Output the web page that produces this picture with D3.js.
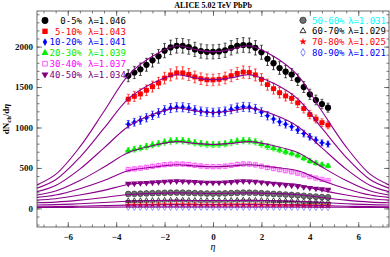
<!DOCTYPE html>
<html>
<head>
<meta charset="utf-8">
<script src="https://cdn.jsdelivr.net/npm/d3@7"></script>
<style>
body { margin: 0; background: #fff; }
svg { display: block; }
</style>
</head>
<body>
<div id="chart"></div>
<script>
// pseudorapidity bins of the measured points
var etaPoints = [-3.5,-3.25,-3,-2.75,-2.5,-2.25,-2,-1.75,-1.5,-1.25,-1,-0.75,-0.5,-0.25,0,0.25,0.5,0.75,1,1.25,1.5,1.75,2,2.25,2.5,2.75,3,3.25,3.5,3.75,4,4.25,4.5,4.75];
var etaCurve = [-7.3,-6.5,-5.5,-4.5,-3.5,-2.5,-1.5,-0.75,0,0.75,1.5,2.5,3.5,4.5,5.5,6.5,7.3];

var centralities = ["0-5%","5-10%","10-20%","20-30%","30-40%","40-50%","50-60%","60-70%","70-80%","80-90%"];
var lambdas = ["1.046","1.043","1.041","1.039","1.037","1.034","1.031","1.029","1.025","1.021"];

// dNch/deta data
var dn0_5   = [1640,1680,1720,1775,1830,1880,1950,1990,2010,2010,1995,1965,1945,1935,1935,1940,1955,1985,2010,2020,2015,1985,1930,1850,1795,1735,1690,1655,1590,1500,1410,1340,1290,1245];
var dn5_10  = [1350,1385,1415,1460,1505,1550,1610,1650,1675,1675,1655,1625,1603,1590,1588,1595,1612,1640,1668,1685,1680,1650,1595,1530,1480,1430,1390,1360,1305,1235,1160,1105,1060,1030];
var dn10_20 = [1040,1065,1090,1120,1150,1180,1215,1240,1250,1250,1240,1215,1200,1190,1185,1190,1200,1225,1245,1255,1250,1230,1190,1145,1105,1070,1040,1010,970,925,885,845,810,795];
var dn20_30 = [715,730,745,765,785,800,820,832,838,836,828,812,800,792,788,790,798,815,830,838,835,822,795,765,745,722,700,680,655,620,585,560,540,525];
var dn30_40 = [480,488,497,508,520,530,540,546,549,548,542,533,524,518,515,517,522,532,543,549,547,538,522,505,492,478,465,452,435,413,392,375,358,345];
var dn40_50 = [305,308,312,316,321,326,331,334,336,335,332,327,322,319,318,319,322,327,333,336,335,330,322,313,306,298,290,282,274,264,254,245,238,232];
var dn50_60 = [178,180,182,185,188,190,192,194,195,194,192,189,186,184,183,184,186,189,192,195,194,192,188,183,179,175,171,167,162,156,150,145,140,136];
var dn60_70 = [92,93,94,95,96,97,98,99,100,99,98,97,96,96,96,96,97,98,99,100,99,98,97,95,93,91,89,87,85,82,79,77,75,73];
var dn70_80 = [43,43.5,44,44.5,45,45.5,46,46.5,46.5,46.5,46,45.5,45,45,45,45,45.5,46,46.5,46.5,46.5,46,45.5,45,44,43,42,41,40,38.5,37,36,35,34];
var dn80_90 = [17,17,17.2,17.3,17.4,17.5,17.6,17.7,17.8,17.8,17.7,17.6,17.5,17.5,17.5,17.5,17.6,17.7,17.8,17.8,17.8,17.7,17.6,17.5,17.3,17.1,16.9,16.7,16.4,16.1,15.8,15.5,15.2,15];

// relative error of the points, per centrality
var relErr = [0.045,0.045,0.045,0.047,0.045,0.04,0.04,0.04,0.04,0.04];

// model curves
var fit0_5   = [288,420,760,1200,1645,1880,2010,1965,1935,1965,2010,1880,1645,1200,760,420,288];
var fit5_10  = [247,354,632,991,1354,1546,1652,1614,1590,1614,1652,1546,1354,991,632,354,247];
var fit10_20 = [205,283,486,748,1013,1160,1240,1205,1185,1205,1240,1160,1013,748,486,283,205];
var fit20_30 = [164,214,344,511,690,775,825,803,790,803,825,775,690,511,344,214,164];
var fit30_40 = [135,165,244,346,465,508,540,524,515,524,540,508,465,346,244,165,135];
var fit40_50 = [103,120,165,223,295,318,333,325,320,325,333,318,295,223,165,120,103];
var fit50_60 = [69,78,102,135,172,185,192,188,184,188,192,185,172,135,102,78,69];
var fit60_70 = [41,46,57,72,89,95,99,98,97,98,99,95,89,72,57,46,41];
var fit70_80 = [20,22,27,34,41,44,46,45.5,45,45.5,46,44,41,34,27,22,20];
var fit80_90 = [12,12.4,13.6,15,16.5,17.3,17.8,17.6,17.5,17.6,17.8,17.3,16.5,15,13.6,12.4,12];

var xTicks = [-6,-4,-2,0,2,4,6];
var yTicks = [0,500,1000,1500,2000];

var allPoints = [dn0_5,dn5_10,dn10_20,dn20_30,dn30_40,dn40_50,dn50_60,dn60_70,dn70_80,dn80_90];
var allFits = [fit0_5,fit5_10,fit10_20,fit20_30,fit30_40,fit40_50,fit50_60,fit60_70,fit70_80,fit80_90];

// marker look per series
var styles = [
	{sym: d3.symbolCircle,   size: 30, fill: "#000",    stroke: "none",    err: "#000",    text: "#000"},
	{sym: d3.symbolSquare,   size: 24, fill: "#ff0000", stroke: "none",    err: "#ff0000", text: "#ff0000"},
	{sym: d3.symbolDiamond,  size: 14, fill: "#0000ff", stroke: "none",    err: "#0000ff", text: "#0000ff"},
	{sym: d3.symbolTriangle, size: 18, fill: "#00ee00", stroke: "none",    err: "#00ee00", text: "#00ee00"},
	{sym: d3.symbolSquare,   size: 18, fill: "none",    stroke: "#ff33ff", err: "#ff66ff", text: "#ff00ff"},
	{sym: d3.symbolTriangle, size: 18, fill: "#800080", stroke: "none",    err: "#800080", text: "#800080", flip: true},
	{sym: d3.symbolCircle,   size: 26, fill: "#707070", stroke: "#303030", err: "#00bbbb", text: "#00ffff"},
	{sym: d3.symbolTriangle, size: 12, fill: "none",    stroke: "#000",    err: "#000",    text: "#000"},
	{sym: d3.symbolStar,     size: 14, fill: "#ff0000", stroke: "none",    err: "#ff0000", text: "#ff0000"},
	{sym: d3.symbolDiamond,  size: 14, fill: "none",    stroke: "#6666ff", err: "#9999ff", text: "#0000ff"}
];

var series = centralities.map(function(c, i) {
	return {label: c, lambda: lambdas[i], values: allPoints[i], fit: allFits[i], err: relErr[i], style: styles[i]};
});

var W = 390, H = 257;
var plot = {left: 37, right: 389, top: 11, bottom: 227};

var x = d3.scaleLinear().domain([-7.27, 7.27]).range([plot.left, plot.right]);
var y = d3.scaleLinear().domain([-230, 2440]).range([plot.bottom, plot.top]);

var svg = d3.select("#chart").append("svg")
	.attr("width", W)
	.attr("height", H);

svg.append("defs").append("clipPath").attr("id", "clip")
	.append("rect")
		.attr("x", plot.left).attr("y", plot.top)
		.attr("width", plot.right - plot.left).attr("height", plot.bottom - plot.top);

// axes, ticks pointing inwards
var tickFont = "'Liberation Serif', 'DejaVu Serif', serif";
var minorX = d3.range(-7, 7.01, 0.5);
var minorY = d3.range(-200, 2401, 100);

function styleAxis(g) {
	g.select(".domain").remove();
	g.selectAll("line").attr("stroke", "#444").attr("stroke-width", 0.7);
	g.selectAll("text").attr("font-family", tickFont).attr("font-weight", "bold").attr("font-size", 9).attr("fill", "#111");
}

svg.append("g").attr("transform", "translate(0," + plot.bottom + ")")
	.call(d3.axisBottom(x).tickValues(minorX).tickSize(-2.5).tickFormat(""))
	.call(styleAxis);
svg.append("g").attr("transform", "translate(0," + plot.bottom + ")")
	.call(d3.axisBottom(x).tickValues(xTicks).tickSize(-5).tickPadding(7).tickFormat(d3.format("d")))
	.call(styleAxis);
svg.append("g").attr("transform", "translate(0," + plot.top + ")")
	.call(d3.axisTop(x).tickValues(minorX).tickSize(-2.5).tickFormat(""))
	.call(styleAxis);
svg.append("g").attr("transform", "translate(0," + plot.top + ")")
	.call(d3.axisTop(x).tickValues(xTicks).tickSize(-5).tickFormat(""))
	.call(styleAxis);

svg.append("g").attr("transform", "translate(" + plot.left + ",0)")
	.call(d3.axisLeft(y).tickValues(minorY).tickSize(-2.5).tickFormat(""))
	.call(styleAxis);
svg.append("g").attr("transform", "translate(" + plot.left + ",0)")
	.call(d3.axisLeft(y).tickValues(yTicks).tickSize(-5).tickPadding(4).tickFormat(d3.format("d")))
	.call(styleAxis);
svg.append("g").attr("transform", "translate(" + plot.right + ",0)")
	.call(d3.axisRight(y).tickValues(minorY).tickSize(-2.5).tickFormat(""))
	.call(styleAxis);
svg.append("g").attr("transform", "translate(" + plot.right + ",0)")
	.call(d3.axisRight(y).tickValues(yTicks).tickSize(-5).tickFormat(""))
	.call(styleAxis);

svg.append("rect")
	.attr("x", plot.left).attr("y", plot.top)
	.attr("width", plot.right - plot.left).attr("height", plot.bottom - plot.top)
	.attr("fill", "none").attr("stroke", "#444").attr("stroke-width", 0.8);

// data points with error bars
var dataLayer = svg.append("g").attr("clip-path", "url(#clip)");

series.slice().reverse().forEach(function(s) {
	var g = dataLayer.append("g");
	var pts = s.values.map(function(v, i) { return {eta: etaPoints[i], v: v}; });

	g.selectAll(".ev").data(pts).enter().append("line")
		.attr("x1", function(d) { return x(d.eta); })
		.attr("x2", function(d) { return x(d.eta); })
		.attr("y1", function(d) { return y(d.v * (1 - s.err)); })
		.attr("y2", function(d) { return y(d.v * (1 + s.err)); })
		.attr("stroke", s.style.err).attr("stroke-width", 0.8);
	g.selectAll(".ecap").data(pts.concat(pts)).enter().append("line")
		.attr("x1", function(d) { return x(d.eta) - 1.5; })
		.attr("x2", function(d) { return x(d.eta) + 1.5; })
		.attr("y1", function(d, i) { return y(d.v * (i < pts.length ? 1 - s.err : 1 + s.err)); })
		.attr("y2", function(d, i) { return y(d.v * (i < pts.length ? 1 - s.err : 1 + s.err)); })
		.attr("stroke", s.style.err).attr("stroke-width", 0.6);
	g.selectAll(".eh").data(pts).enter().append("line")
		.attr("x1", function(d) { return x(d.eta - 0.125); })
		.attr("x2", function(d) { return x(d.eta + 0.125); })
		.attr("y1", function(d) { return y(d.v); })
		.attr("y2", function(d) { return y(d.v); })
		.attr("stroke", s.style.err).attr("stroke-width", 0.8);

	g.selectAll(".m").data(pts).enter().append("path")
		.attr("d", d3.symbol().type(s.style.sym).size(s.style.size))
		.attr("transform", function(d) {
			return "translate(" + x(d.eta) + "," + y(d.v) + ")" + (s.style.flip ? " rotate(180)" : "");
		})
		.attr("fill", s.style.fill)
		.attr("stroke", s.style.stroke)
		.attr("stroke-width", 0.7);
});

// model curves
var line = d3.line()
	.x(function(d) { return x(d[0]); })
	.y(function(d) { return y(d[1]); })
	.curve(d3.curveCatmullRom.alpha(0.5));

svg.append("g").attr("clip-path", "url(#clip)")
	.selectAll("path").data(series).enter().append("path")
		.attr("d", function(s) { return line(s.fit.map(function(v, i) { return [etaCurve[i], v]; })); })
		.attr("fill", "none")
		.attr("stroke", "#8b008b")
		.attr("stroke-width", 1.1);

// legends
var monoFont = "'DejaVu Sans Mono', 'Liberation Mono', monospace";

function legendRow(s, mx, rowY, labelX, anchor, lamX) {
	var g = svg.append("g");
	g.append("path")
		.attr("d", d3.symbol().type(s.style.sym).size(s.style.size * 1.2))
		.attr("transform", "translate(" + mx + "," + rowY + ")" + (s.style.flip ? " rotate(180)" : ""))
		.attr("fill", s.style.fill)
		.attr("stroke", s.style.stroke)
		.attr("stroke-width", 0.8);
	g.append("text")
		.attr("x", labelX).attr("y", rowY + 3.2)
		.attr("text-anchor", anchor)
		.attr("font-family", monoFont).attr("font-size", 9)
		.attr("fill", s.style.text)
		.text(s.label);
	g.append("text")
		.attr("x", lamX).attr("y", rowY + 3.2)
		.attr("font-family", monoFont).attr("font-size", 9)
		.attr("fill", s.style.text)
		.text("λ=" + s.lambda);
}

series.slice(0, 6).forEach(function(s, i) {
	legendRow(s, 45, 20.5 + i * 10.8, 82, "end", 88);
});
series.slice(6).forEach(function(s, i) {
	legendRow(s, 303, 20.3 + i * 10.7, 312, "start", 348);
});

// titles
svg.append("text")
	.attr("x", 213).attr("y", 8)
	.attr("text-anchor", "middle")
	.attr("font-family", tickFont).attr("font-weight", "bold").attr("font-size", 8)
	.text("ALICE 5.02 TeV PbPb");

svg.append("text")
	.attr("x", 213).attr("y", 250)
	.attr("text-anchor", "middle")
	.attr("font-family", tickFont).attr("font-style", "italic").attr("font-size", 10)
	.text("η");

var yl = svg.append("text")
	.attr("transform", "translate(9," + ((plot.top + plot.bottom) / 2) + ") rotate(-90)")
	.attr("text-anchor", "middle")
	.attr("font-family", tickFont).attr("font-weight", "bold").attr("font-size", 9);
yl.append("tspan").text("dN");
yl.append("tspan").attr("font-size", 6.5).attr("dy", 2).text("ch");
yl.append("tspan").attr("dy", -2).text("/d");
yl.append("tspan").attr("font-style", "italic").text("η");
</script>
</body>
</html>
